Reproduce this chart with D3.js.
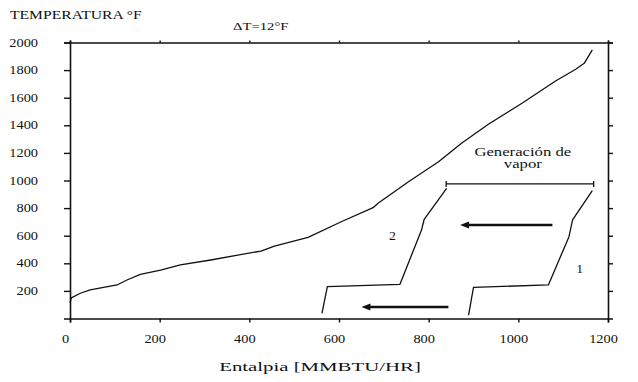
<!DOCTYPE html>
<html>
<head>
<meta charset="utf-8">
<script src="https://cdn.jsdelivr.net/npm/d3@7"></script>
<style>
  html, body { margin: 0; padding: 0; background: #fff; }
  svg text { font-family: "Liberation Serif", "DejaVu Serif", serif; fill: #111; }
</style>
</head>
<body>
<div id="chart"></div>
<script>
// hot gas curve (enthalpy MMBTU/HR, temperature °F)
const hotEnthalpy = [0, 3, 23, 45, 75, 105, 127, 157, 202, 246, 314, 374, 426, 456, 531, 605, 676, 687, 755, 822, 874, 934, 1009, 1083, 1128, 1147, 1165];
const hotTemp = [115, 150, 183, 207, 226, 243, 279, 320, 351, 388, 424, 460, 489, 525, 588, 701, 803, 835, 991, 1136, 1272, 1409, 1562, 1721, 1806, 1849, 1946];

// steam side, case 2
const steam2Enthalpy = [562, 574, 736, 784, 790, 840];
const steam2Temp = [38, 231, 248, 641, 719, 943];

// steam side, case 1
const steam1Enthalpy = [889, 900, 1067, 1113, 1121, 1165];
const steam1Temp = [25, 226, 243, 593, 714, 926];

const xTicks = [0, 200, 400, 600, 800, 1000, 1200];
const yTicks = [200, 400, 600, 800, 1000, 1200, 1400, 1600, 1800, 2000];

// annotations
const bracketRange = [839, 1168], bracketTemp = 975;
const arrowUpper = [1076, 870], arrowUpperTemp = 678;
const arrowLower = [844, 650], arrowLowerTemp = 83;

const W = 638, H = 382;
const margin = { t: 42.5, r: 30, b: 63.5, l: 70 };

const svg = d3.select("#chart").append("svg")
  .attr("width", W)
  .attr("height", H)
  .attr("viewBox", [0, 0, W, H]);

const x = d3.scaleLinear().domain([0, 1200]).range([margin.l, W - margin.r]);
const y = d3.scaleLinear().domain([0, 2000]).range([H - margin.b, margin.t]);

const ink = "#111";

// the scanned figure is wider than plain Times, so stretch glyphs a little
const stretch = (sel, f) =>
  sel.each(function () {
    const w = this.getComputedTextLength();
    d3.select(this).attr("textLength", w * f).attr("lengthAdjust", "spacingAndGlyphs");
  });

const axisStyle = (g) => {
  g.select(".domain").attr("stroke", ink).attr("stroke-width", 1.6);
  g.selectAll(".tick line").attr("stroke", ink).attr("stroke-width", 1.4);
  g.selectAll(".tick text").attr("font-size", 11.5).attr("fill", ink)
    .attr("font-family", "Liberation Serif, serif")
    .call(stretch, 1.25);
};

svg.append("g")
  .attr("transform", `translate(0,${H - margin.b})`)
  .call(d3.axisBottom(x).tickValues(xTicks).tickFormat(d3.format("d")).tickSizeOuter(0).tickSize(4).tickPadding(12))
  .call(axisStyle)
  .selectAll(".tick text").attr("dx", -5);

svg.append("g")
  .attr("transform", `translate(${margin.l},0)`)
  .call(d3.axisLeft(y).tickValues(yTicks).tickFormat(d3.format("d")).tickSizeOuter(0).tickSize(6).tickPadding(26))
  .call(axisStyle);

svg.append("g")
  .attr("transform", `translate(${W - margin.r},0)`)
  .call(d3.axisRight(y).tickValues(yTicks).tickSizeOuter(0).tickSize(5).tickFormat(""))
  .call(axisStyle);

svg.append("g")
  .attr("transform", `translate(0,${margin.t})`)
  .call(d3.axisTop(x).tickValues(xTicks).tickSizeOuter(0).tickSize(2).tickFormat(""))
  .call(axisStyle);

//
const lineGen = d3.line().x((d) => x(d[0])).y((d) => y(d[1]));
const curves = [
  d3.zip(hotEnthalpy, hotTemp),
  d3.zip(steam2Enthalpy, steam2Temp),
  d3.zip(steam1Enthalpy, steam1Temp),
];
svg.append("g").selectAll("path")
  .data(curves)
  .join("path")
  .attr("d", lineGen)
  .attr("fill", "none")
  .attr("stroke", ink)
  .attr("stroke-width", 1.3)
  .attr("stroke-linejoin", "round");

// bracket "Generación de vapor"
const br = svg.append("g").attr("stroke", ink).attr("stroke-width", 1.3);
br.append("line")
  .attr("x1", x(bracketRange[0])).attr("x2", x(bracketRange[1]))
  .attr("y1", y(bracketTemp)).attr("y2", y(bracketTemp));
bracketRange.forEach((v) => {
  br.append("line")
    .attr("x1", x(v)).attr("x2", x(v))
    .attr("y1", y(bracketTemp) - 3).attr("y2", y(bracketTemp) + 3);
});

// arrows
const drawArrow = (range, t) => {
  const x0 = x(range[0]), x1 = x(range[1]), yy = y(t);
  svg.append("line")
    .attr("x1", x0).attr("x2", x1 + 6)
    .attr("y1", yy).attr("y2", yy)
    .attr("stroke", ink).attr("stroke-width", 2.6);
  svg.append("path")
    .attr("d", `M${x1},${yy}L${x1 + 9},${yy - 3.5}L${x1 + 9},${yy + 3.5}Z`)
    .attr("fill", ink);
};
drawArrow(arrowUpper, arrowUpperTemp);
drawArrow(arrowLower, arrowLowerTemp);

// labels
const label = (txt, px, py, size, f, anchor) =>
  svg.append("text")
    .attr("x", px).attr("y", py)
    .attr("font-size", size)
    .attr("text-anchor", anchor || "middle")
    .text(txt)
    .call(stretch, f);

label("2", x(719), y(598) + 4, 11.5, 1.2);
label("1", x(1137), y(357) + 4, 11.5, 1.2);
label("Generación de", x(1010), y(1209) + 4, 11.5, 1.45);
label("vapor", x(1010), y(1117) + 4, 11.5, 1.45);
label("TEMPERATURA °F", 10, 19, 12.5, 1.25, "start");
label("ΔT=12°F", 233, 30, 10.5, 1.4, "start");
label("Entalpia [MMBTU/HR]", 320, 371, 13, 1.6);
</script>
</body>
</html>
